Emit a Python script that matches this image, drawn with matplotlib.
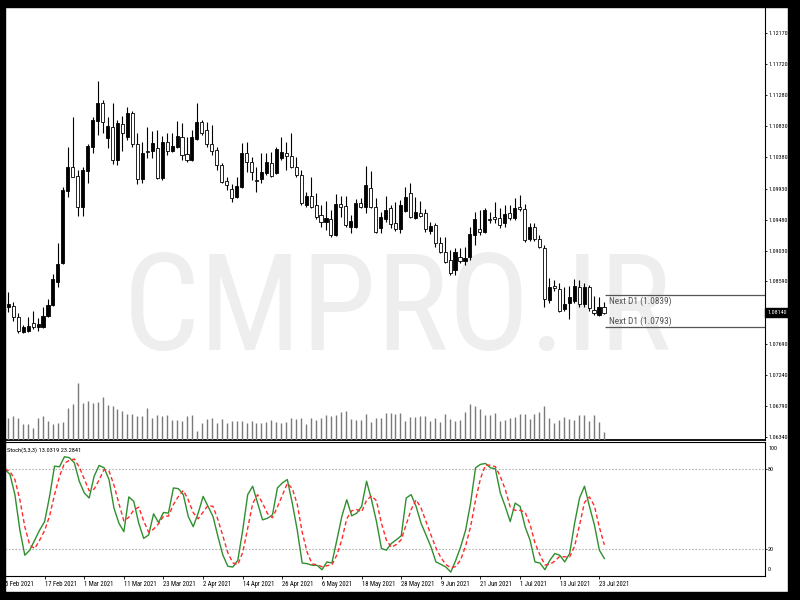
import matplotlib
matplotlib.use("Agg")
import matplotlib.pyplot as plt
import numpy as np
from matplotlib import font_manager
from matplotlib.patches import Rectangle
from matplotlib.transforms import blended_transform_factory

# ---------------- data ----------------
opens = [
    1.0818, 1.0822, 1.0824, 1.0808, 1.0786, 1.0787, 1.0799, 1.0793, 1.0793, 1.0809,
    1.0825, 1.0858, 1.0886, 1.0989, 1.1024, 1.1011, 1.0966, 1.1018, 1.1053, 1.1090,
    1.1116, 1.1066, 1.1082, 1.1034, 1.1086, 1.1067, 1.1102, 1.1057, 1.1007, 1.1047,
    1.1047, 1.1052, 1.1008, 1.1060, 1.1047, 1.1053, 1.1067, 1.1043, 1.1034, 1.1064,
    1.1089, 1.1077, 1.1057, 1.1049, 1.1027, 1.1004, 1.0992, 1.0981, 1.0995, 1.1044,
    1.1031, 1.1005, 1.1007, 1.1015, 1.1030, 1.1015, 1.1037, 1.1044, 1.1040, 1.1024,
    1.1013, 1.0969, 1.0982, 1.0969, 1.0955, 1.0945, 1.0949, 1.0926, 1.0970, 1.0968,
    1.0938, 1.0938, 1.0972, 1.0966, 1.0994, 1.0966, 1.0936, 1.0949, 1.0965, 1.0943,
    1.0935, 1.0961, 1.0987, 1.0950, 1.0958, 1.0958, 1.0932, 1.0940, 1.0915, 1.0902,
    1.0890, 1.0875, 1.0894, 1.0888, 1.0894, 1.0926, 1.0935, 1.0930, 1.0949, 1.0952,
    1.0950, 1.0943, 1.0958, 1.0950, 1.0966, 1.0963, 1.0920, 1.0938, 1.0920, 1.0907,
    1.0832, 1.0852, 1.0848, 1.0819, 1.0828, 1.0831, 1.0851, 1.0826, 1.0851, 1.0818,
    1.0810, 1.0822]
highs = [
    1.0839, 1.0844, 1.0829, 1.0813, 1.0796, 1.0808, 1.0816, 1.0806, 1.0822, 1.0834,
    1.0870, 1.0914, 1.0995, 1.1053, 1.1096, 1.1020, 1.1024, 1.1057, 1.1096, 1.1148,
    1.1121, 1.1096, 1.1116, 1.1092, 1.1098, 1.1111, 1.1105, 1.1073, 1.1060, 1.1082,
    1.1076, 1.1077, 1.1069, 1.1073, 1.1073, 1.1090, 1.1088, 1.1067, 1.1077, 1.1116,
    1.1092, 1.1089, 1.1085, 1.1053, 1.1030, 1.1010, 1.0999, 1.1010, 1.1059, 1.1060,
    1.1039, 1.1024, 1.1044, 1.1044, 1.1046, 1.1053, 1.1067, 1.1060, 1.1073, 1.1039,
    1.1020, 1.0988, 1.1010, 1.0987, 1.0969, 1.0975, 1.0962, 1.0985, 1.0982, 1.0982,
    1.0955, 1.0978, 1.0979, 1.1025, 1.1018, 1.0979, 1.0959, 1.0982, 1.0969, 1.0974,
    1.0976, 1.0995, 1.1001, 1.0981, 1.0975, 1.0963, 1.0945, 1.0943, 1.0923, 1.0923,
    1.0904, 1.0907, 1.0907, 1.0909, 1.0938, 1.0959, 1.0962, 1.0965, 1.0959, 1.0974,
    1.0965, 1.0969, 1.0969, 1.0979, 1.0984, 1.0970, 1.0943, 1.0943, 1.0926, 1.0912,
    1.0864, 1.0861, 1.0857, 1.0851, 1.0852, 1.0862, 1.0861, 1.0857, 1.0854, 1.0838,
    1.0836, 1.0829]
lows = [
    1.0815, 1.0815, 1.0802, 1.0785, 1.0785, 1.0786, 1.0790, 1.0787, 1.0792, 1.0808,
    1.0824, 1.0851, 1.0884, 1.0981, 1.1009, 1.0953, 1.0953, 1.1001, 1.1044, 1.1070,
    1.1073, 1.1052, 1.1028, 1.1027, 1.1047, 1.1063, 1.1053, 1.1000, 1.1001, 1.1037,
    1.1037, 1.1007, 1.1005, 1.1041, 1.1046, 1.1052, 1.1034, 1.1031, 1.1033, 1.1063,
    1.1070, 1.1053, 1.1041, 1.1020, 1.1001, 1.0991, 1.0974, 1.0979, 1.0994, 1.1017,
    1.1005, 1.0988, 1.1001, 1.1013, 1.1010, 1.1014, 1.1034, 1.1020, 1.1023, 1.1010,
    1.0969, 1.0966, 1.0965, 1.0949, 1.0938, 1.0933, 1.0923, 1.0925, 1.0952, 1.0938,
    1.0929, 1.0936, 1.0965, 1.0958, 1.0965, 1.0929, 1.0929, 1.0945, 1.0936, 1.0932,
    1.0929, 1.0959, 1.0950, 1.0949, 1.0952, 1.0930, 1.0927, 1.0909, 1.0900, 1.0886,
    1.0868, 1.0868, 1.0886, 1.0883, 1.0890, 1.0912, 1.0926, 1.0929, 1.0943, 1.0943,
    1.0936, 1.0938, 1.0948, 1.0948, 1.0961, 1.0916, 1.0917, 1.0917, 1.0907, 1.0822,
    1.0828, 1.0845, 1.0815, 1.0816, 1.0805, 1.0828, 1.0822, 1.0822, 1.0816, 1.0810,
    1.0809, 1.0812]
closes = [
    1.0829, 1.0826, 1.0808, 1.0787, 1.0793, 1.0795, 1.0793, 1.0798, 1.0809, 1.0825,
    1.0862, 1.0884, 1.0991, 1.1024, 1.1010, 1.0966, 1.1020, 1.1054, 1.1092, 1.1116,
    1.1089, 1.1083, 1.1034, 1.1088, 1.1073, 1.1102, 1.1057, 1.1007, 1.1044, 1.1046,
    1.1059, 1.1008, 1.1060, 1.1047, 1.1054, 1.1069, 1.1041, 1.1034, 1.1067, 1.1089,
    1.1073, 1.1057, 1.1047, 1.1027, 1.1002, 1.0998, 1.0979, 1.0997, 1.1044, 1.1031,
    1.1017, 1.1004, 1.1017, 1.1031, 1.1011, 1.1050, 1.1046, 1.1040, 1.1024, 1.1013,
    1.0972, 1.0982, 1.0966, 1.0952, 1.0945, 1.0950, 1.0926, 1.0970, 1.0966, 1.0940,
    1.0946, 1.0972, 1.0966, 1.0998, 1.0966, 1.0930, 1.0952, 1.0962, 1.0942, 1.0935,
    1.0969, 1.0981, 1.0952, 1.0959, 1.0953, 1.0935, 1.0939, 1.0915, 1.0902, 1.0887,
    1.0871, 1.0902, 1.0888, 1.0893, 1.0927, 1.0949, 1.0930, 1.0962, 1.0948, 1.0949,
    1.0940, 1.0956, 1.0950, 1.0965, 1.0963, 1.0919, 1.0938, 1.0920, 1.0909, 1.0834,
    1.0851, 1.0849, 1.0816, 1.0826, 1.0836, 1.0852, 1.0826, 1.0851, 1.0821, 1.0813,
    1.0822, 1.0814]
volumes = [
    20, 21.6, 24.3, 21.6, 16, 16, 12.3, 21.6, 24, 19,
    15.6, 16.6, 18.3, 31.6, 36, 56.6, 37.3, 39, 36.6, 38.3,
    43.3, 35, 34, 31, 29, 25.6, 26.3, 24, 24, 31.6,
    22.3, 25, 24, 25, 20, 20, 19, 24, 25, 9.3,
    16.6, 21, 21.6, 16.6, 20.6, 16.6, 19, 19, 19, 16.6,
    19, 17.3, 16.6, 17.6, 20, 18.3, 16.6, 17.6, 22.3, 20.6,
    22.3, 16, 22.3, 20, 22.3, 25, 24, 25, 27.6, 29,
    20.6, 20, 20, 25.6, 17.6, 22.3, 22.3, 26.6, 26.6, 26,
    27.3, 19, 23.3, 23.3, 24, 24, 19, 22.3, 18, 26.3,
    20.7, 19, 19.7, 28.3, 35.7, 34, 30.7, 24.7, 25, 27.3,
    19, 19.7, 21.7, 23.3, 25.7, 25.7, 20.7, 26.3, 28, 34,
    22.3, 16.7, 19.7, 23.3, 20.7, 19.7, 25, 25, 19, 24.7,
    18, 8.3]
stoch_k = [
    79.5, 75.8, 60.7, 34.3, 15.5, 19.3, 26.8, 34.3, 40.6, 59.4,
    82, 81.5, 89, 88.3, 84.5, 70.7, 62, 58.2, 74.5, 82.5,
    80.8, 72, 50.7, 39.4, 33.1, 59, 55.7, 39.4, 28.1, 30.6,
    46.4, 39.9, 47.4, 46.9, 65.7, 65.2, 60.7, 44.4, 36.8, 46.9,
    59.4, 51.9, 44.4, 29.3, 15.5, 7.2, 6.7, 11.7, 34.3, 60.7,
    67, 54.4, 41.9, 43.1, 45.6, 65.7, 69.5, 72, 54.4, 34.3,
    9.7, 9.2, 8, 8, 4.7, 10.5, 9.7, 26.8, 44.4, 56.9,
    44.9, 46.9, 51.9, 70.7, 56.9, 40.6, 20.5, 19.3, 24.3, 27,
    30, 58.2, 60.7, 51.9, 39.4, 30.6, 21.8, 10.5, 8.7, 6.7,
    2.9, 11.7, 21.8, 34.3, 54.4, 80.8, 83.3, 84, 80.8, 80,
    62, 51.9, 40.6, 54.4, 51.9, 36.8, 26.8, 10.5, 9.7, 4.7,
    11.7, 16.8, 15.5, 10.5, 16.8, 39.4, 58.2, 67, 51.9, 38.1,
    19.3, 13.0319]
stoch_d = [
    80, 78, 72, 56.9, 36.8, 23, 20.5, 26.8, 33.9, 44.8,
    60.7, 74.3, 84.2, 86.3, 87.3, 81.2, 72.4, 63.6, 64.9, 71.7,
    79.3, 78.4, 67.8, 54, 41.1, 43.8, 49.3, 51.4, 41.1, 32.7,
    35, 39, 44.6, 44.7, 53.3, 59.3, 63.9, 56.8, 47.3, 42.7,
    47.7, 52.7, 51.9, 41.9, 29.7, 17.3, 9.8, 8.5, 17.6, 35.6,
    54, 60.7, 54.4, 46.5, 43.5, 51.5, 60.3, 69.1, 65.3, 53.6,
    32.8, 17.7, 9, 8.4, 6.9, 7.7, 8.3, 15.7, 27, 42.7,
    48.7, 49.6, 47.9, 56.5, 59.8, 56.1, 39.3, 26.8, 21.4, 23.5,
    27.1, 38.4, 49.6, 56.9, 50.7, 40.6, 30.6, 21, 13.7, 8.6,
    6.1, 7.1, 12.1, 22.6, 36.8, 56.5, 72.8, 82.7, 82.7, 81.6,
    74.3, 64.6, 51.5, 49, 49, 47.7, 38.5, 24.7, 15.7, 8.3,
    8.7, 11.1, 14.7, 14.3, 14.3, 22.2, 38.1, 54.9, 59, 52.3,
    36.4, 23.2841]
date_labels = ["5 Feb 2021", "17 Feb 2021", "1 Mar 2021", "11 Mar 2021", "23 Mar 2021",
               "2 Apr 2021", "14 Apr 2021", "26 Apr 2021", "6 May 2021", "18 May 2021",
               "28 May 2021", "9 Jun 2021", "21 Jun 2021", "1 Jul 2021", "13 Jul 2021",
               "23 Jul 2021"]
date_bar_index = [0, 8, 16, 24, 32, 40, 48, 56, 64, 72, 80, 88, 96, 104, 112, 120]
price_ticks = [1.12170, 1.11720, 1.11280, 1.10830, 1.10380, 1.09930, 1.09480,
               1.09030, 1.08590, 1.08140, 1.07690, 1.07240, 1.06790, 1.06340]
current_price = 1.08140
next_d1_levels = [1.0839, 1.0793]
stoch_levels = [80, 20]
stoch_title = "Stoch(5,3,3) 13.0319 23.2841"
watermark = "CMPRO.IR"

# ---------------- fonts ----------------
names = {f.name for f in font_manager.fontManager.ttflist}
NARROW = "Liberation Sans"
for cand in ["Liberation Sans Narrow", "Arial Narrow", "Roboto Condensed", "PT Sans Narrow",
             "Archivo Narrow", "Fira Sans Condensed", "IBM Plex Sans Condensed",
             "Open Sans Condensed", "Asap Condensed"]:
    if cand in names:
        NARROW = cand
        break
plt.rcParams["font.family"] = [NARROW, "DejaVu Sans"]

W, H = 800, 600
fig = plt.figure(figsize=(8, 6), dpi=100, facecolor="white")
renderer = fig.canvas.get_renderer()


def fit_size(text, target_px, family=NARROW, ref=20.0, max_size=None):
    t = fig.text(0, 0, text, fontsize=ref, family=family)
    w = t.get_window_extent(renderer=renderer).width
    t.remove()
    s = ref * target_px / w
    return min(s, max_size) if max_size else s


FS_PRICE = fit_size("1.12170", 19.5, max_size=6)
FS_DATE = fit_size("17 Feb 2021", 32, max_size=6.5)
FS_TITLE = fit_size(stoch_title, 75, max_size=6.5)
FS_NEXT = fit_size("Next D1 (1.0839)", 62, max_size=8)
FS_WM = fit_size(watermark, 549, ref=100)


def rect(x0, y0, x1, y1):
    return [x0 / W, 1 - y1 / H, (x1 - x0) / W, (y1 - y0) / H]


ax = fig.add_axes(rect(5, 7, 765, 440))
ax_s = fig.add_axes(rect(5, 442, 765, 576))

o = np.array(opens); h = np.array(highs); l = np.array(lows); c = np.array(closes)
x = np.arange(len(o))
XL = (0.3425, 153.44)

ax.text(397.5 / W, 1 - 350 / H, watermark, transform=fig.transFigure, ha="center",
        va="baseline", fontsize=FS_WM, color="#eeeeee", zorder=0.5, clip_on=False)

ax_v = ax.twinx()
ax_v.set_position(ax.get_position())
vol = np.array(volumes)
ax_v.vlines(x, 0, vol, color="#7a7a7a", lw=1.0)
ax_v.set_ylim(0, vol.max() / 0.1307)
ax_v.set_xlim(*XL)
ax_v.axis("off")

ax.vlines(x, l, h, color="black", lw=0.8, zorder=2)
bull = c >= o
body_low = np.minimum(o, c)
body_h = np.maximum(np.abs(c - o), 0.00003)
ax.bar(x, body_h, bottom=body_low, width=0.62,
       color=np.where(bull, "black", "white"), edgecolor="black", lw=0.6, zorder=3)

ax.set_xlim(*XL)
ax.set_ylim(1.063013, 1.125495)
ax.set_xticks([])
ax.yaxis.tick_right()
ax.set_yticks(price_ticks)
ax.set_yticklabels(["" if v == current_price else f"{v:.5f}" for v in price_ticks])
ax.tick_params(axis="y", length=1.6, width=0.6, pad=0.6, labelsize=FS_PRICE, colors="black")
for s in ("left", "top"):
    ax.spines[s].set_visible(False)
ax.spines["right"].set_linewidth(0.8)
ax.spines["bottom"].set_linewidth(1.3)

ax.hlines(next_d1_levels, 121.2, XL[1], color="#555555", lw=0.9, zorder=4)
ax.annotate(f"Next D1 ({next_d1_levels[0]:.4f})", xy=(122, next_d1_levels[0]),
            xytext=(0, -1.0), textcoords="offset points", va="top", ha="left",
            fontsize=FS_NEXT, color="#505050")
ax.annotate(f"Next D1 ({next_d1_levels[1]:.4f})", xy=(122, next_d1_levels[1]),
            xytext=(0, 1.0), textcoords="offset points", va="bottom", ha="left",
            fontsize=FS_NEXT, color="#505050")

tr = blended_transform_factory(ax.transAxes, ax.transData)
ax.text(1.003, current_price, f"{current_price:.5f}", transform=tr, va="center",
        ha="left", fontsize=FS_PRICE, color="white", clip_on=False, zorder=10,
        bbox=dict(boxstyle="square,pad=0.3", fc="black", ec="black"))

ax_s.plot(x, stoch_k, color="#2f8f2f", lw=1.0, zorder=3)
ax_s.plot(x, stoch_d, color="#ff2a2a", lw=1.0, dashes=(3, 2), zorder=3)
for lv in stoch_levels:
    ax_s.axhline(lv, color="#b4b4b4", lw=0.8, ls=(0, (1.5, 1.5)), zorder=1)
ax_s.set_xlim(*XL)
ax_s.set_ylim(0, 100)
ax_s.yaxis.tick_right()
ax_s.set_yticks(stoch_levels)
ax_s.set_yticklabels([str(v) for v in stoch_levels])
ax_s.tick_params(axis="y", length=1.6, width=0.6, pad=0.6, labelsize=FS_PRICE)
trs = blended_transform_factory(ax_s.transAxes, ax_s.transData)
ax_s.text(1.004, 95.3, "100", transform=trs, va="center", ha="left", fontsize=FS_PRICE, clip_on=False)
ax_s.text(1.004, 4.7, "0", transform=trs, va="center", ha="left", fontsize=FS_PRICE, clip_on=False)
ax_s.text(0.003, 0.94, stoch_title, transform=ax_s.transAxes, va="center", ha="left",
          fontsize=FS_TITLE, color="black")
ax_s.set_xticks(date_bar_index)
ax_s.set_xticklabels(date_labels)
ax_s.tick_params(axis="x", length=2.2, width=0.6, pad=1.3, labelsize=FS_DATE)
for lab in ax_s.get_xticklabels():
    lab.set_horizontalalignment("left")
    lab.set_clip_on(False)
ax_s.spines["left"].set_visible(False)
for s in ("top", "right", "bottom"):
    ax_s.spines[s].set_linewidth(0.8)

for r in [(0, 0, 800, 7), (0, 0, 5, 600), (788, 0, 800, 600), (0, 592, 800, 600)]:
    fig.add_artist(Rectangle((r[0] / W, 1 - r[3] / H), (r[2] - r[0]) / W, (r[3] - r[1]) / H,
                             transform=fig.transFigure, color="black", zorder=100))

fig.savefig("out.png", dpi=100, facecolor="white")
